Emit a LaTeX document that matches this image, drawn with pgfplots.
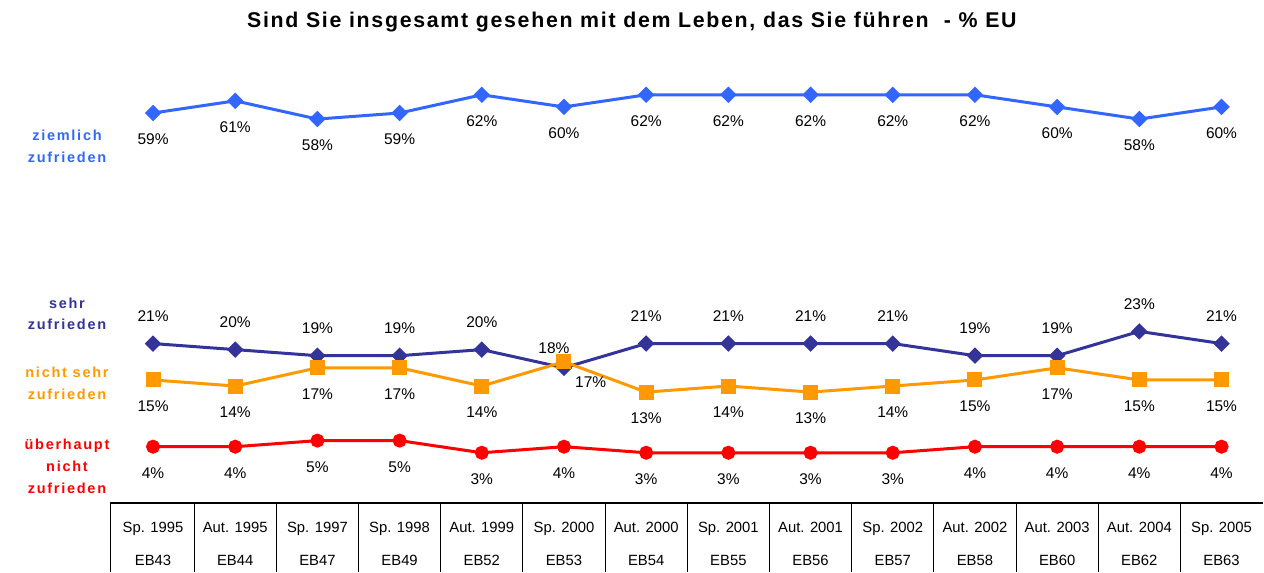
\documentclass[border=0pt]{standalone}
\usepackage{fontspec}
\setmainfont{Liberation Sans}
\newfontfamily\spaced[LetterSpace=12]{Liberation Sans}
\newfontfamily\titlefont[LetterSpace=8]{Liberation Sans}
\usepackage{pgfplots}
\pgfplotsset{compat=1.18}
\definecolor{cZiem}{HTML}{3366FF}
\definecolor{cSehr}{HTML}{333399}
\definecolor{cNicht}{HTML}{FF9900}
\definecolor{cUeber}{HTML}{FF0000}

\begin{document}
\begin{tikzpicture}
\begin{axis}[
  scale only axis, width=758.4pt, height=343.2pt,
  xmin=-1.862, xmax=13.51, ymin=-16.64, ymax=77.6,
  axis line style={draw=none}, ytick=\empty,
  xtick={0,...,13}, major tick length=0pt,
  xticklabels={{Sp. 1995\\EB43},{Aut. 1995\\EB44},{Sp. 1997\\EB47},{Sp. 1998\\EB49},
    {Aut. 1999\\EB52},{Sp. 2000\\EB53},{Aut. 2000\\EB54},{Sp. 2001\\EB55},
    {Aut. 2001\\EB56},{Sp. 2002\\EB57},{Aut. 2002\\EB58},{Aut. 2003\\EB60},
    {Aut. 2004\\EB62},{Sp. 2005\\EB63}},
  xticklabel style={align=center, anchor=center, yshift=17.1pt,
    font=\fontsize{8.9}{19.8}\selectfont},
  clip=false,
  /pgf/number format/assume math mode=true,
  every axis plot/.append style={line width=1.8pt},
  dia/.style={mark=square*, mark size=2.6pt, mark options={rotate=45}},
  lbl/.style={draw=none, mark=none, nodes near coords={\pgfmathprintnumber{\pgfplotspointmeta}\%},
    point meta=y, every node near coord/.append style={font=\fontsize{9.3}{10}\selectfont,
    anchor=center, text=black}},
  below/.style={lbl, every node near coord/.append style={yshift=-15.9pt}},
  above/.style={lbl, every node near coord/.append style={yshift=16.5pt}},
]
% ziemlich zufrieden
\addplot[cZiem, dia] coordinates {
 (0,59) (1,61) (2,58) (3,59) (4,62) (5,60) (6,62) (7,62) (8,62) (9,62) (10,62) (11,60) (12,58) (13,60)};
\addplot[below] coordinates {
 (0,59) (1,61) (2,58) (3,59) (4,62) (5,60) (6,62) (7,62) (8,62) (9,62) (10,62) (11,60) (12,58) (13,60)};
% sehr zufrieden
\addplot[cSehr, dia] coordinates {
 (0,21) (1,20) (2,19) (3,19) (4,20) (5,17) (6,21) (7,21) (8,21) (9,21) (10,19) (11,19) (12,23) (13,21)};
\addplot[above] coordinates {
 (0,21) (1,20) (2,19) (3,19) (4,20) (6,21) (7,21) (8,21) (9,21) (10,19) (11,19) (12,23) (13,21)};
\addplot[lbl, every node near coord/.append style={xshift=16pt, yshift=-8.4pt}] coordinates {(5,17)};
% nicht sehr zufrieden
\addplot[cNicht, mark=square*, mark size=3.6pt] coordinates {
 (0,15) (1,14) (2,17) (3,17) (4,14) (5,18) (6,13) (7,14) (8,13) (9,14) (10,15) (11,17) (12,15) (13,15)};
\addplot[below] coordinates {
 (0,15) (1,14) (2,17) (3,17) (4,14) (6,13) (7,14) (8,13) (9,14) (10,15) (11,17) (12,15) (13,15)};
\addplot[lbl, every node near coord/.append style={xshift=-6pt, yshift=8.4pt}] coordinates {(5,18)};
% ueberhaupt nicht zufrieden
\addplot[cUeber, mark=*, mark size=3.3pt] coordinates {
 (0,4) (1,4) (2,5) (3,5) (4,3) (5,4) (6,3) (7,3) (8,3) (9,3) (10,4) (11,4) (12,4) (13,4)};
\addplot[below] coordinates {
 (0,4) (1,4) (2,5) (3,5) (4,3) (5,4) (6,3) (7,3) (8,3) (9,3) (10,4) (11,4) (12,4) (13,4)};

% series names
\begin{scope}[every node/.style={align=center, font=\spaced\bfseries\fontsize{8.7}{13.2}\selectfont}]
\node[text=cZiem] at (axis cs:-1.047,53.5) {ziemlich\\zufrieden};
\node[text=cSehr] at (axis cs:-1.047,25.9) {sehr\\zufrieden};
\node[text=cNicht] at (axis cs:-1.047,14.5) {nicht sehr\\zufrieden};
\node[text=cUeber] at (axis cs:-1.047,0.8) {überhaupt\\nicht\\zufrieden};
\end{scope}
\node[font=\titlefont\bfseries\fontsize{12.8}{14}\selectfont] at (axis cs:5.826,74.0)
  {Sind Sie insgesamt gesehen mit dem Leben, das Sie führen \ - \% EU};

% table grid
\draw[black, line width=0.7pt] (axis cs:-0.52,-5.27) -- (axis cs:13.51,-5.27);
\draw[black, line width=0.7pt] (axis cs:-0.52,-5.27) -- (axis cs:-0.52,-16.64);
\pgfplotsinvokeforeach{0.5,1.5,...,12.5}{
  \draw[black, line width=0.5pt] (axis cs:#1,-5.27) -- (axis cs:#1,-16.64);
}
\path (rel axis cs:0,0) rectangle (rel axis cs:1,1);
\end{axis}
\end{tikzpicture}
\end{document}
